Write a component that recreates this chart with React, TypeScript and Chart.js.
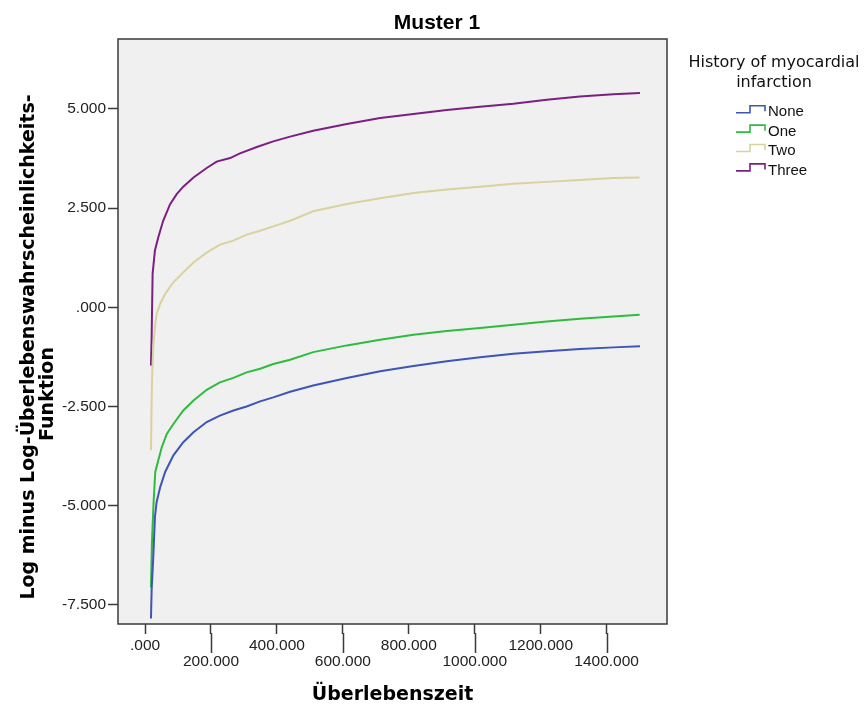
import React, { useEffect, useRef } from 'react';
import { Chart, registerables } from 'chart.js';

Chart.register(...registerables);

const CHART_TITLE = 'Muster 1';
const X_TITLE = 'Überlebenszeit';
const Y_TITLE = ['Log minus Log-Überlebenswahrscheinlichkeits-', 'Funktion'];
const LEGEND_TITLE = ['History of myocardial', 'infarction'];
const SERIES_LABELS = ['None', 'One', 'Two', 'Three'];
const SERIES_COLORS = ['#3d55b4', '#2ebb3e', '#d8d29c', '#7c1f82'];
const X_TICKS = [0, 200, 400, 600, 800, 1000, 1200, 1400];
const Y_TICKS = [-7.5, -5, -2.5, 0, 2.5, 5];
const X_MIN = -82;
const X_MAX = 1583;
const Y_MIN = -7.98;
const Y_MAX = 6.76;

const NONE_T = [18, 20, 25, 30, 35, 46, 61, 86, 116, 147, 187, 227, 268, 308, 349, 389, 440, 510, 612, 713, 814, 915, 1016, 1117, 1218, 1319, 1420, 1501];
const NONE_V = [-7.84, -7.13, -6.29, -5.29, -4.91, -4.53, -4.15, -3.73, -3.4, -3.15, -2.89, -2.73, -2.6, -2.5, -2.37, -2.27, -2.13, -1.97, -1.78, -1.61, -1.48, -1.36, -1.26, -1.17, -1.11, -1.05, -1.01, -0.98];

const ONE_T = [18, 21, 26, 31, 40, 51, 66, 86, 116, 147, 187, 227, 268, 308, 349, 389, 440, 510, 612, 713, 814, 915, 1016, 1117, 1218, 1319, 1420, 1500];
const ONE_V = [-7.06, -5.9, -4.9, -4.15, -3.86, -3.52, -3.19, -2.94, -2.6, -2.35, -2.08, -1.89, -1.78, -1.64, -1.55, -1.43, -1.32, -1.13, -0.96, -0.82, -0.69, -0.6, -0.52, -0.44, -0.36, -0.29, -0.23, -0.19];

const TWO_T = [18, 20, 22, 25, 30, 35, 46, 61, 86, 116, 147, 187, 227, 268, 308, 349, 389, 440, 510, 612, 713, 814, 915, 1016, 1117, 1218, 1319, 1420, 1500];
const TWO_V = [-3.6, -2.35, -1.6, -1.0, -0.5, -0.17, 0.09, 0.34, 0.63, 0.88, 1.13, 1.38, 1.58, 1.68, 1.83, 1.93, 2.04, 2.18, 2.42, 2.6, 2.75, 2.88, 2.97, 3.04, 3.11, 3.16, 3.21, 3.26, 3.27];

const THREE_T = [18, 20, 23, 30, 40, 55, 76, 96, 116, 147, 187, 217, 258, 288, 339, 389, 440, 510, 612, 713, 814, 915, 1016, 1117, 1218, 1319, 1420, 1501];
const THREE_V = [-1.47, -0.75, 0.85, 1.43, 1.76, 2.18, 2.6, 2.85, 3.04, 3.27, 3.51, 3.67, 3.76, 3.88, 4.04, 4.18, 4.3, 4.45, 4.62, 4.77, 4.87, 4.97, 5.05, 5.13, 5.23, 5.31, 5.37, 5.4];

const SERIES_T = [NONE_T, ONE_T, TWO_T, THREE_T];
const SERIES_V = [NONE_V, ONE_V, TWO_V, THREE_V];

function fmt(v: number): string {
  const s = Math.abs(v).toFixed(3);
  const body = s.startsWith('0.') ? s.slice(1) : s;
  return (v < 0 ? '-' : '') + body;
}

const decorPlugin = {
  id: 'decor',
  beforeDraw(chart: any) {
    const { ctx, chartArea: a } = chart;
    ctx.save();
    ctx.fillStyle = '#f0f0f0';
    ctx.fillRect(a.left, a.top, a.right - a.left, a.bottom - a.top);
    ctx.restore();
  },
  afterDraw(chart: any) {
    const { ctx, chartArea: a } = chart;
    ctx.save();
    // frame
    ctx.strokeStyle = '#3a3a3a';
    ctx.lineWidth = 1.5;
    ctx.strokeRect(a.left, a.top, a.right - a.left, a.bottom - a.top);
    // long ticks for the staggered second row
    const xs = chart.scales.x;
    ctx.beginPath();
    X_TICKS.forEach((v, i) => {
      if (i % 2 === 1) {
        const px = Math.round(xs.getPixelForValue(v)) + 0.5;
        ctx.moveTo(px, a.bottom + 9);
        ctx.lineTo(px, a.bottom + 29);
      }
    });
    ctx.stroke();

    // chart title
    ctx.fillStyle = '#000';
    ctx.textAlign = 'center';
    ctx.textBaseline = 'alphabetic';
    ctx.font = 'bold 21px "Liberation Sans", Arial, sans-serif';
    ctx.fillText(CHART_TITLE, 437, 29);

    // y axis title
    ctx.save();
    ctx.font = 'bold 19px "DejaVu Sans", sans-serif';
    ctx.textBaseline = 'middle';
    ctx.translate(29, 347);
    ctx.rotate(-Math.PI / 2);
    ctx.fillText(Y_TITLE[0], 0, 0);
    ctx.restore();
    ctx.save();
    ctx.font = 'bold 19px "DejaVu Sans", sans-serif';
    ctx.textBaseline = 'middle';
    ctx.translate(48, 394);
    ctx.rotate(-Math.PI / 2);
    ctx.fillText(Y_TITLE[1], 0, 0);
    ctx.restore();

    // legend title
    ctx.fillStyle = '#111';
    ctx.textAlign = 'center';
    ctx.textBaseline = 'alphabetic';
    ctx.font = '16px "DejaVu Sans", sans-serif';
    ctx.fillText(LEGEND_TITLE[0], 774, 66.5);
    ctx.fillText(LEGEND_TITLE[1], 774, 86.5);

    // legend items
    ctx.font = '15px "Liberation Sans", Arial, sans-serif';
    ctx.textAlign = 'left';
    chart.data.datasets.forEach((ds: any, i: number) => {
      const base = 116.3 + i * 19.4;
      ctx.strokeStyle = ds.borderColor;
      ctx.lineWidth = 1.6;
      ctx.beginPath();
      ctx.moveTo(736, base - 3.6);
      ctx.lineTo(750, base - 3.6);
      ctx.lineTo(750, base - 10.6);
      ctx.lineTo(765, base - 10.6);
      ctx.lineTo(765, base - 5);
      ctx.stroke();
      ctx.fillStyle = '#111';
      ctx.fillText(ds.label, 768, base);
    });
    ctx.restore();
  },
};

export default function App() {
  const ref = useRef<HTMLCanvasElement | null>(null);

  useEffect(() => {
    document.body.style.margin = '0';
    const canvas = ref.current;
    if (!canvas) return;
    const datasets = SERIES_LABELS.map((label, i) => ({
      label,
      data: SERIES_T[i].map((t, j) => ({ x: t, y: SERIES_V[i][j] })),
      borderColor: SERIES_COLORS[i],
      backgroundColor: SERIES_COLORS[i],
      borderWidth: 2,
      pointRadius: 0,
      tension: 0,
      fill: false,
    }));
    const chart = new Chart(canvas, {
      type: 'line',
      data: { datasets },
      options: {
        responsive: false,
        animation: false,
        layout: { padding: { top: 39, right: 197, left: 0, bottom: 0 } },
        plugins: {
          legend: { display: false },
          title: { display: false },
          tooltip: { enabled: false },
        },
        scales: {
          x: {
            type: 'linear',
            min: X_MIN,
            max: X_MAX,
            afterBuildTicks: (scale: any) => {
              scale.ticks = X_TICKS.map((v) => ({ value: v }));
            },
            afterFit: (scale: any) => {
              scale.height = 82;
            },
            border: { display: false },
            grid: { drawOnChartArea: false, drawTicks: true, tickLength: 10, tickColor: '#3a3a3a', tickWidth: 1.5 },
            ticks: {
              autoSkip: false,
              maxRotation: 0,
              minRotation: 0,
              padding: 4,
              color: '#222',
              font: { family: '"Liberation Sans", Arial, sans-serif', size: 15.5, lineHeight: '16px' },
              callback: (v: any, i: number) => (i % 2 === 1 ? ['', fmt(Number(v))] : fmt(Number(v))),
            },
            title: {
              display: true,
              text: X_TITLE,
              color: '#000',
              font: { family: '"DejaVu Sans", sans-serif', weight: 'bold', size: 19, lineHeight: '22px' },
              padding: { top: 0, bottom: 0 },
            },
          },
          y: {
            type: 'linear',
            min: Y_MIN,
            max: Y_MAX,
            afterBuildTicks: (scale: any) => {
              scale.ticks = Y_TICKS.map((v) => ({ value: v }));
            },
            afterFit: (scale: any) => {
              scale.width = 118;
            },
            border: { display: false },
            grid: { drawOnChartArea: false, drawTicks: true, tickLength: 10, tickColor: '#3a3a3a', tickWidth: 1.5 },
            ticks: {
              padding: 2,
              color: '#222',
              font: { family: '"Liberation Sans", Arial, sans-serif', size: 15.5 },
              callback: (v: any) => fmt(Number(v)),
            },
          },
        },
      },
      plugins: [decorPlugin],
    } as any);
    return () => chart.destroy();
  }, []);

  return (
    <div style={{ width: 864, height: 706, background: '#fff' }}>
      <canvas ref={ref} width={864} height={706} style={{ display: 'block' }} />
    </div>
  );
}
